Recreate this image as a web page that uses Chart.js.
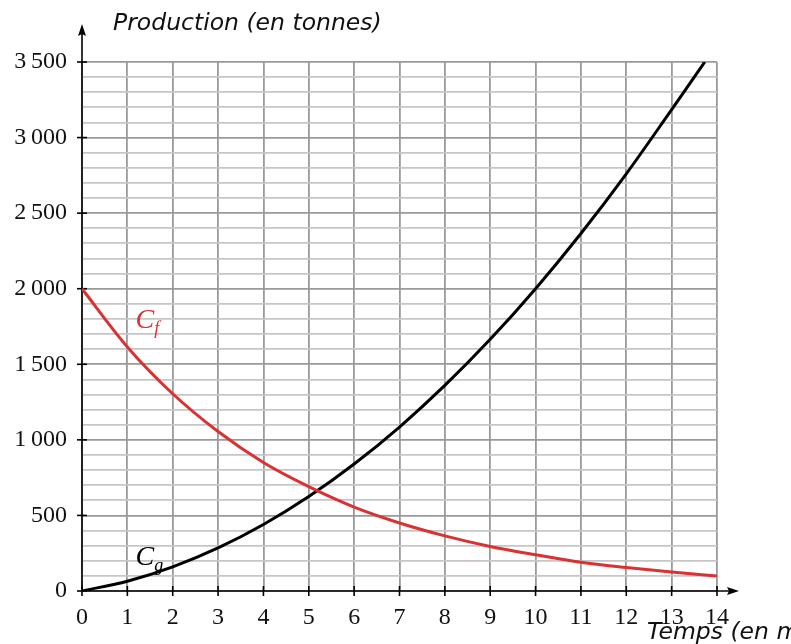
<!DOCTYPE html>
<html>
<head>
<meta charset="utf-8">
<script src="https://cdn.jsdelivr.net/npm/chart.js@4"></script>
<style>
html,body{margin:0;padding:0;background:#fff;}
canvas{display:block;}
</style>
</head>
<body>
<canvas id="c" width="791" height="644"></canvas>
<script>
// ---- data ----
const fX = [0,1,2,3,4,5,6,7,8,9,10,11,12,13,14];
const fValues = [2000,1615,1305,1055,850,690,555,450,365,295,240,190,155,125,100];
const gX = [0,1,2,3,4,5,6,7,8,9,10,11,12,13,13.73];
const gValues = [0,65,160,285,440,625,840,1085,1360,1665,2000,2365,2760,3185,3500];
const xTicks = [0,1,2,3,4,5,6,7,8,9,10,11,12,13,14];
const yMajorTicks = [0,500,1000,1500,2000,2500,3000,3500];
const yTickLabels = ['0','500','1\u2009000','1\u2009500','2\u2009000','2\u2009500','3\u2009000','3\u2009500'];
const xTitle = 'Temps (en mois)';
const yTitle = 'Production (en tonnes)';
const fName = 'f';
const gName = 'g';

const RED = '#d93232';
const SERIF = '"Liberation Serif", "DejaVu Serif", serif';
const SANS = '"DejaVu Sans", sans-serif';

const decor = {
  id: 'decor',
  beforeDatasetsDraw(chart) {
    const ctx = chart.ctx;
    const xs = chart.scales.x, ys = chart.scales.y;
    const x0 = xs.getPixelForValue(0), y0 = ys.getPixelForValue(0);
    const xEnd = xs.getPixelForValue(14), yTop = ys.getPixelForValue(3500);
    ctx.save();
    ctx.strokeStyle = '#000';
    ctx.fillStyle = '#000';
    ctx.lineWidth = 1.6;
    // x axis
    ctx.beginPath(); ctx.moveTo(x0, y0); ctx.lineTo(xEnd + 14, y0); ctx.stroke();
    ctx.beginPath(); ctx.moveTo(xEnd + 22, y0); ctx.lineTo(xEnd + 10, y0 - 4); ctx.lineTo(xEnd + 12, y0); ctx.lineTo(xEnd + 10, y0 + 4); ctx.closePath(); ctx.fill();
    // y axis
    ctx.beginPath(); ctx.moveTo(x0, y0); ctx.lineTo(x0, yTop - 30); ctx.stroke();
    ctx.beginPath(); ctx.moveTo(x0, yTop - 38); ctx.lineTo(x0 - 4, yTop - 26); ctx.lineTo(x0, yTop - 28); ctx.lineTo(x0 + 4, yTop - 26); ctx.closePath(); ctx.fill();
    // ticks
    xTicks.forEach(v => {
      const px = xs.getPixelForValue(v);
      ctx.beginPath(); ctx.moveTo(px, y0 - 5); ctx.lineTo(px, y0 + 5); ctx.stroke();
    });
    yMajorTicks.forEach(v => {
      const py = ys.getPixelForValue(v);
      ctx.beginPath(); ctx.moveTo(x0 - 5, py); ctx.lineTo(x0 + 5, py); ctx.stroke();
    });
    ctx.restore();
  },
  afterDraw(chart) {
    const ctx = chart.ctx;
    const xs = chart.scales.x, ys = chart.scales.y;
    ctx.save();
    ctx.textBaseline = 'alphabetic';
    ctx.textAlign = 'left';
    ctx.fillStyle = '#111';
    ctx.font = 'italic 23.5px ' + SANS;
    ctx.fillText(yTitle, 113, 30);
    ctx.fillText(xTitle, 647, 639);
    // curve labels
    const drawName = (sub, color, px, py) => {
      ctx.fillStyle = color;
      ctx.font = 'italic 28px ' + SERIF;
      ctx.fillText('C', px, py);
      const w = ctx.measureText('C').width;
      ctx.font = 'italic 18px ' + SERIF;
      ctx.fillText(sub, px + w, py + 6);
    };
    drawName(fName, RED, xs.getPixelForValue(1.18), ys.getPixelForValue(1740));
    drawName(gName, '#000', xs.getPixelForValue(1.18), ys.getPixelForValue(175));
    ctx.restore();
  }
};

new Chart(document.getElementById('c'), {
  type: 'line',
  plugins: [decor],
  data: {
    datasets: [
      { data: fX.map((x, i) => ({x, y: fValues[i]})), borderColor: RED, borderWidth: 3, pointRadius: 0, cubicInterpolationMode: 'monotone', fill: false },
      { data: gX.map((x, i) => ({x, y: gValues[i]})), borderColor: '#000', borderWidth: 3, pointRadius: 0, cubicInterpolationMode: 'monotone', fill: false }
    ]
  },
  options: {
    responsive: false,
    animation: false,
    events: [],
    layout: { padding: { left: 0, right: 74, top: 62, bottom: 0 } },
    plugins: { legend: { display: false }, tooltip: { enabled: false }, title: { display: false } },
    scales: {
      x: {
        type: 'linear', min: 0, max: 14,
        afterFit(s) { s.height = 53; },
        afterBuildTicks(s) { s.ticks = xTicks.map(v => ({value: v})); },
        border: { display: false },
        grid: { color: '#9a9a9a', lineWidth: 1.8, drawTicks: false },
        ticks: { color: '#111', font: { family: SERIF, size: 24 }, padding: 12, maxRotation: 0, autoSkip: false,
                 callback: v => String(v) }
      },
      y: {
        type: 'linear', min: 0, max: 3500,
        afterFit(s) { s.width = 82; },
        border: { display: false },
        ticks: { stepSize: 100, autoSkip: false, color: '#111', font: { family: SERIF, size: 24 }, padding: 15,
                 callback: v => { const i = yMajorTicks.indexOf(v); return i >= 0 ? yTickLabels[i] : ''; } },
        grid: { drawTicks: false, lineWidth: 1.8,
                color: c => (c.tick && c.tick.value % 500 === 0) ? '#9a9a9a' : '#c6c6c6' }
      }
    }
  }
});
</script>
</body>
</html>
